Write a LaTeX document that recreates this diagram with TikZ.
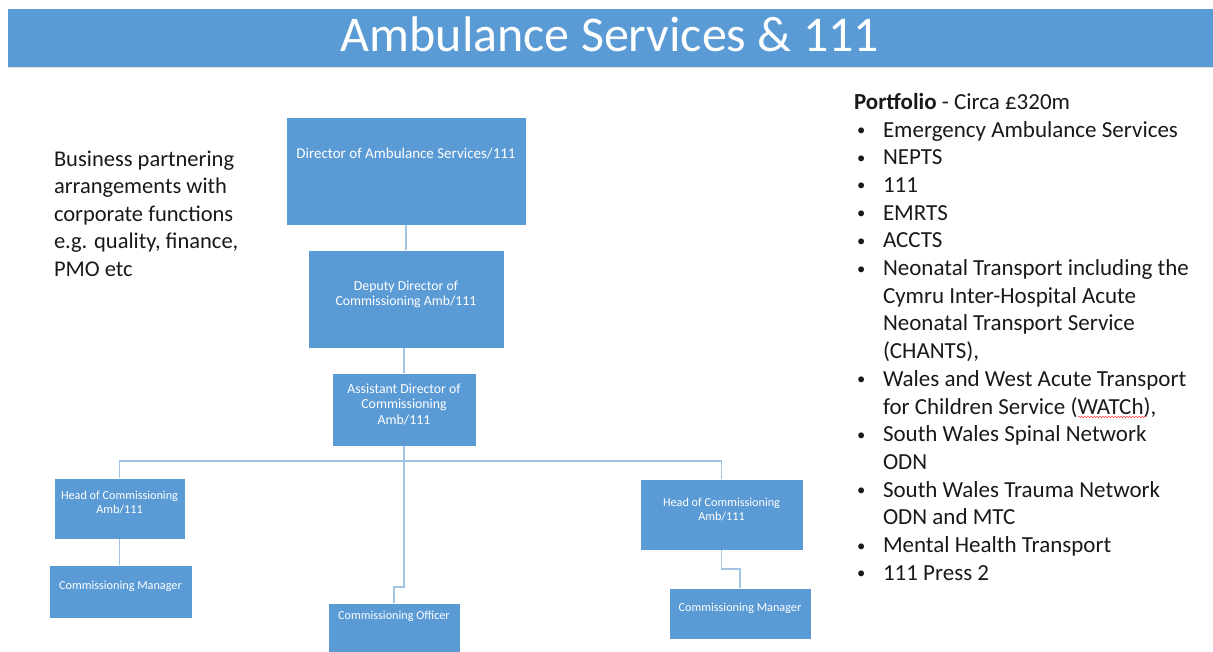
\documentclass[tikz,border=0pt]{standalone}
\usepackage{fontspec}
\setmainfont{Carlito}
\usepackage{xcolor}
\usepackage{graphicx}
\usepackage{tikz}
\usetikzlibrary{calc,decorations.pathmorphing}

\definecolor{boxblue}{RGB}{91,155,213}
\definecolor{lineblue}{RGB}{164,196,230}
\definecolor{bodygrey}{RGB}{25,25,25}

\newcommand{\fs}[2]{\fontsize{#1}{#2}\selectfont}
% bullet and hanging indent for the portfolio list
\newcommand{\itm}{\hspace*{3pt}\makebox[26pt][l]{\raisebox{1.5pt}{\scalebox{0.72}{\textbullet}}}}
\newcommand{\cont}{\hspace*{29pt}}

\begin{document}
\begin{tikzpicture}[x=1pt, y=-1pt,
		every node/.style={inner sep=0pt, outer sep=0pt},
		orgbox/.style={rectangle, fill=boxblue, draw=white, line width=0.6pt},
		boxlabel/.style={anchor=north, align=center, text=white},
		link/.style={draw=lineblue, line width=1.6pt},
		bodytext/.style={anchor=north west, align=left, text=bodygrey}]

	\useasboundingbox (0,0) rectangle (1213,652);

	% title bar
	\node[fill=boxblue, minimum width=1205pt, minimum height=59pt, anchor=north west] (titlebar) at (8,9) {};
	\draw[black!12, line width=1pt] (titlebar.south west) -- (titlebar.south east);
	\node[text=white, font=\fs{50}{60}, anchor=base] (title) at (610,52) {Ambulance Services \& 111};

	% org chart boxes
	\node[orgbox, minimum width=240pt, minimum height=108pt] (director) at (406,171) {};
	\node[boxlabel, font=\fs{15}{18}] (director-t) at (406,146) {\strut Director of Ambulance Services/111};

	\node[orgbox, minimum width=196pt, minimum height=98pt] (deputy) at (406,299) {};
	\node[boxlabel, font=\fs{13.8}{15}] (deputy-t) at (406,280) {\strut Deputy Director of\\ Commissioning Amb/111};

	\node[orgbox, minimum width=144pt, minimum height=73pt] (assistant) at (404,409.5) {};
	\node[boxlabel, font=\fs{13.8}{15.5}] (assistant-t) at (404,382.5) {\strut Assistant Director of\\ Commissioning\\ Amb/111};

	\node[orgbox, minimum width=131pt, minimum height=61pt] (headL) at (119.5,508.5) {};
	\node[boxlabel, font=\fs{12.2}{13.5}] (headL-t) at (119.5,490.5) {\strut Head of Commissioning\\ Amb/111};

	\node[orgbox, minimum width=163pt, minimum height=71pt] (headR) at (721.5,514.5) {};
	\node[boxlabel, font=\fs{12.2}{13.5}] (headR-t) at (721.5,497.5) {\strut Head of Commissioning\\ Amb/111};

	\node[orgbox, minimum width=143pt, minimum height=53pt] (mgrL) at (120.5,591.5) {};
	\node[boxlabel, font=\fs{12.2}{13.5}] (mgrL-t) at (120.5,580.5) {\strut Commissioning Manager};

	\node[orgbox, minimum width=142pt, minimum height=51pt] (mgrR) at (740,613.5) {};
	\node[boxlabel, font=\fs{12.2}{13.5}] (mgrR-t) at (740,602.5) {\strut Commissioning Manager};

	\node[orgbox, minimum width=132pt, minimum height=49pt] (officer) at (394,627.5) {};
	\node[boxlabel, font=\fs{12.2}{13.5}] (officer-t) at (394,610.5) {\strut Commissioning Officer};

	% reporting lines
	\coordinate (bus) at (404,461);
	\coordinate (offjog) at (404,587);
	\coordinate (mgrjog) at (721.5,569);
	\draw[link] (director.south) -- (deputy.south |- director.south) -- (deputy.north);
	\draw[link] (assistant.north |- deputy.south) -- (assistant.north);
	\draw[link] (assistant.south) -- (bus);
	\draw[link] (bus) -| (headL.north);
	\draw[link] (bus) -| (headR.north);
	\draw[link] (bus) -- (offjog) -| (officer.north);
	\draw[link] (headL.south) -- (headL.south |- mgrL.north);
	\draw[link] (headR.south) -- (mgrjog) -| (mgrR.north);

	% side notes
	\node[bodytext, font=\fs{22.5}{27.5}] (partnering) at (54,147) {\strut Business partnering\\ arrangements with\\ corporate functions\\ e.g. quality, finance,\\ PMO etc};

	\node[bodytext, font=\fs{23}{27.7}] (portfolio) at (854,90) {\strut\textbf{Portfolio} - Circa £320m\\
		\itm Emergency Ambulance Services\\
		\itm NEPTS\\
		\itm 111\\
		\itm EMRTS\\
		\itm ACCTS\\
		\itm Neonatal Transport including the\\
		\cont Cymru Inter-Hospital Acute\\
		\cont Neonatal Transport Service\\
		\cont (CHANTS),\\
		\itm Wales and West Acute Transport\\
		\cont for Children Service (WATCh),\\
		\itm South Wales Spinal Network\\
		\cont ODN\\
		\itm South Wales Trauma Network\\
		\cont ODN and MTC\\
		\itm Mental Health Transport\\
		\itm 111 Press 2};

	% spell-check squiggle
	\draw[red!75, line width=0.5pt, decorate, decoration={snake, amplitude=0.7pt, segment length=3pt}] (1078,417) -- (1146,417);
\end{tikzpicture}
\end{document}
